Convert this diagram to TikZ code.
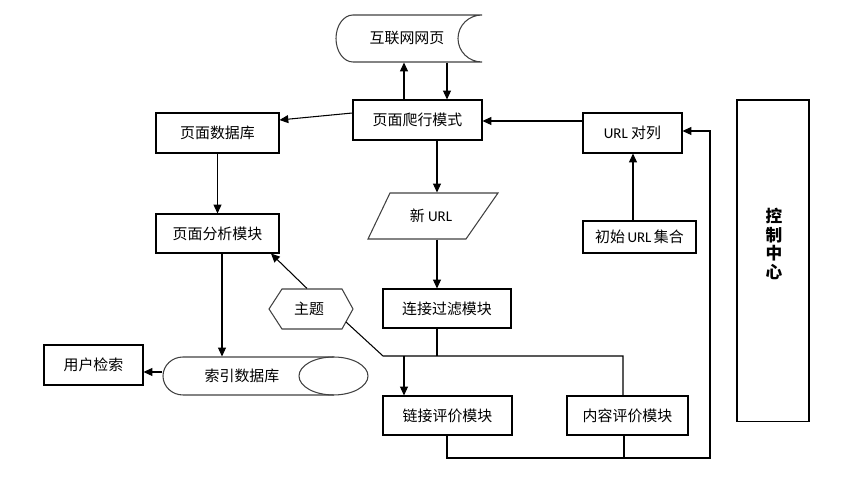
\documentclass[tikz,border=0pt]{standalone}
\usepackage{fontspec}
\setmainfont{Noto Sans CJK SC}
\newfontfamily\latinfont{Carlito}
\usetikzlibrary{arrows.meta}
\newcommand{\urltxt}{{\latinfont URL}}

\begin{document}
\begin{tikzpicture}[x=0.02cm, y=-0.02cm, line width=0.6pt,
    box/.style={draw, inner sep=0pt, minimum height=0.8cm, font=\fontsize{8.5}{10}\selectfont},
    plain/.style={inner sep=0pt, font=\fontsize{8.5}{10}\selectfont},
    outline/.style={draw=black!75},
    arr/.style={-{Triangle[length=5pt,width=4.5pt]}}]
            \useasboundingbox (0,0) rectangle (860,492);
            % shapes drawn by hand
            \draw[outline] (482,15) -- (353,15) .. controls (343.6,15) and (336,25.5) .. (336,38.5) .. controls (336,51.5) and (343.6,62) .. (353,62) -- (482,62) .. controls (468.7,62) and (458,51.5) .. (458,38.5) .. controls (458,25.5) and (468.7,15) .. (482,15);
            \draw[outline] (390,193) -- (498,193) -- (466,239) -- (368,239) -- cycle;
            \draw[outline] (269,309) -- (282,289) -- (342,289) -- (353,309) -- (342,329) -- (282,329) -- cycle;
            \draw[outline] (333.5,357) -- (183,357) .. controls (172,357) and (163,365.5) .. (163,376) .. controls (163,386.5) and (172,395) .. (183,395) -- (333.5,395);
            \draw[outline] (333.5,376) ellipse [x radius=0.69cm, y radius=0.38cm];
            % nodes
            \node[plain, minimum width=2.9cm, minimum height=0.94cm] (web) at (407,38.5) {互联网网页};
            \node[box, minimum width=2.58cm] (crawl) at (417.5,120) {页面爬行模式};
            \node[box, minimum width=2.46cm] (pagedb) at (217.5,133) {页面数据库};
            \node[box, minimum width=2.46cm, minimum height=0.78cm] (analysis) at (217.5,233.5) {页面分析模块};
            \node[box, minimum width=1.98cm] (queue) at (632.5,133) {\urltxt\ 对列};
            \node[box, minimum width=2.26cm, minimum height=0.64cm] (seed) at (639.5,237) {初始\,\urltxt\,集合};
            \node[plain, minimum width=2cm, minimum height=0.92cm] (newurl) at (431,216) {新 \urltxt};
            \node[box, minimum width=2.56cm, minimum height=0.78cm] (filter) at (447,308.5) {连接过滤模块};
            \node[plain, minimum width=1.7cm, minimum height=0.8cm] (topic) at (309,309) {主题};
            \node[plain, minimum width=3.16cm, minimum height=0.76cm] (indexdb) at (242,376) {索引数据库};
            \node[box, minimum width=1.98cm] (user) at (93.5,365) {用户检索};
            \node[box, minimum width=2.58cm, minimum height=0.78cm] (linkeval) at (447.5,415.5) {链接评价模块};
            \node[box, minimum width=2.42cm, minimum height=0.78cm] (contenteval) at (627.5,415.5) {内容评价模块};
            \node[box, minimum width=1.44cm, minimum height=6.44cm] (ctrl) at (773,261) {};
            \node[inner sep=0pt, align=center, font=\fontsize{9.5}{10.6}\selectfont\bfseries] (ctrllabel) at (774,244) {控\\制\\中\\心};
            \coordinate (topicout) at (346,322);
            \coordinate (busl) at (383,356);
            \coordinate (busr) at (623,356);
            \coordinate (busin) at (437,356);
            \coordinate (bl) at (447,458);
            \coordinate (br) at (710,458);
            % connectors
            \draw[arr] (crawl.north -| 404,0) -- (web.south -| 404,0);
            \draw[arr] (web.south -| 447,0) -- (crawl.north -| 447,0);
            \draw[arr] (crawl.west |- 0,113) -- (pagedb.east |- 0,120);
            \draw[arr] (queue.west |- 0,121) -- (crawl.east |- 0,121);
            \draw[arr] (seed.north -| 633,0) -- (queue.south -| 633,0);
            \draw[arr] (crawl.south -| 437,0) -- (newurl.north -| 437,0);
            \draw[arr] (newurl.south -| 437,0) -- (filter.north -| 437,0);
            \draw[arr] (pagedb.south) -- (analysis.north);
            \draw[arr] (analysis.south -| 222,0) -- (indexdb.north -| 222,0);
            \draw[arr] (indexdb.west |- 0,372) -- (user.east |- 0,372);
            \draw[arr] (topic.north -| 307,0) -- (analysis.south -| 271,0);
            \draw (topicout) -- (busl) -- (busr) -- (contenteval.north -| busr);
            \draw (filter.south -| busin) -- (busin);
            \draw[arr] (busl -| 404,0) -- (linkeval.north -| 404,0);
            \draw[arr] (linkeval.south -| bl) -- (bl) -- (br) -- (710,131) -- (queue.east |- 0,131);
            \draw (contenteval.south -| 624,0) -- (624,458);
        \end{tikzpicture}
\end{document}
